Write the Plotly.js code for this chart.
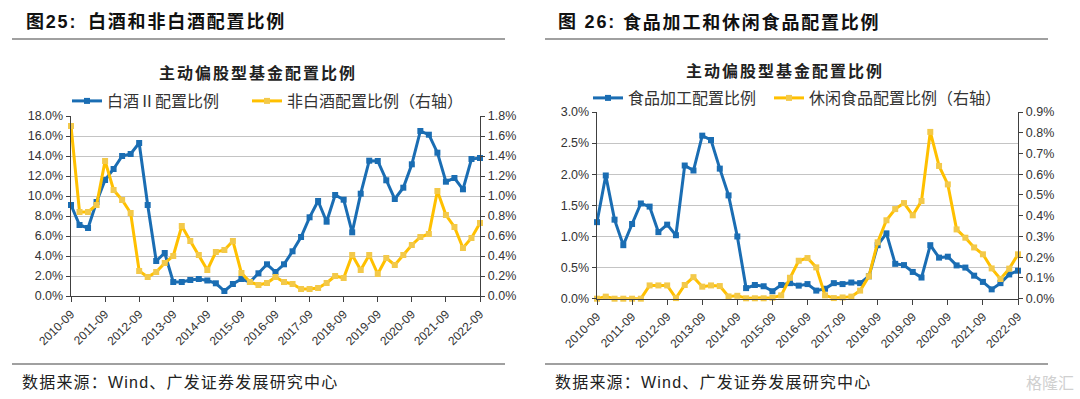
<!DOCTYPE html>
<html>
<head>
<meta charset="utf-8">
<script src="https://cdn.plot.ly/plotly-3.0.1.min.js"></script>
<style>
html,body{margin:0;padding:0;background:#fff;}
#chart{width:1080px;height:399px;}
g.annotation[data-index="0"] text, g.annotation[data-index="1"] text,
g.annotation[data-index="2"] text, g.annotation[data-index="3"] text{letter-spacing:1.8px;}
g.annotation[data-index="4"] text, g.annotation[data-index="5"] text{letter-spacing:2px;}
g.annotation[data-index="6"] text, g.annotation[data-index="7"] text{letter-spacing:1.2px;}
</style>
</head>
<body>
<div id="chart"></div>
<script>
// ---- data ----
const quarters = [
 "2010-09","2010-12","2011-03","2011-06","2011-09","2011-12","2012-03","2012-06",
 "2012-09","2012-12","2013-03","2013-06","2013-09","2013-12","2014-03","2014-06",
 "2014-09","2014-12","2015-03","2015-06","2015-09","2015-12","2016-03","2016-06",
 "2016-09","2016-12","2017-03","2017-06","2017-09","2017-12","2018-03","2018-06",
 "2018-09","2018-12","2019-03","2019-06","2019-09","2019-12","2020-03","2020-06",
 "2020-09","2020-12","2021-03","2021-06","2021-09","2021-12","2022-03","2022-06",
 "2022-09"];
const yearTicks = ["2010-09","2011-09","2012-09","2013-09","2014-09","2015-09","2016-09",
 "2017-09","2018-09","2019-09","2020-09","2021-09","2022-09"];

// Panel 25 (percent)
const baijiu = [9.1,7.1,6.8,9.4,11.6,12.7,14.0,14.2,15.3,9.1,3.5,4.3,1.4,1.4,1.6,1.7,
 1.55,1.27,0.5,1.2,1.7,1.4,2.27,3.17,2.4,3.17,4.47,5.9,7.87,9.5,7.43,10.1,
 9.63,6.37,10.23,13.53,13.5,11.57,9.7,10.83,13.17,16.5,16.13,14.33,11.43,11.8,10.67,13.7,13.8];
const feiBaijiu = [1.70,0.84,0.84,0.91,1.35,1.06,0.96,0.83,0.25,0.19,0.24,0.33,0.40,0.70,0.55,0.41,
 0.26,0.44,0.46,0.55,0.23,0.14,0.11,0.13,0.19,0.14,0.12,0.07,0.07,0.08,0.13,0.20,
 0.18,0.41,0.26,0.41,0.22,0.38,0.31,0.41,0.51,0.59,0.62,1.05,0.81,0.69,0.48,0.58,0.73];

// Panel 26 (percent)
const foodProc = [1.23,1.98,1.27,0.86,1.2,1.53,1.48,1.07,1.19,1.02,2.14,2.06,2.62,2.55,2.09,1.66,
 1.0,0.17,0.22,0.2,0.12,0.22,0.25,0.21,0.235,0.13,0.16,0.25,0.235,0.26,0.25,0.36,
 0.86,1.05,0.56,0.54,0.43,0.34,0.86,0.66,0.675,0.535,0.5,0.37,0.27,0.15,0.25,0.39,0.45];
const snackFood = [0.0,0.01,0.0,0.0,0.0,0.0,0.064,0.064,0.064,0.003,0.066,0.104,0.058,0.064,0.061,0.011,
 0.014,0.002,0.002,0.002,0.005,0.016,0.101,0.183,0.196,0.151,0.016,0.003,0.006,0.01,0.039,0.108,
 0.272,0.378,0.432,0.461,0.402,0.471,0.804,0.64,0.551,0.334,0.294,0.247,0.214,0.146,0.095,0.145,0.214];

const names = {
  baijiu: "白酒Ⅱ配置比例",
  feiBaijiu: "非白酒配置比例（右轴）",
  foodProc: "食品加工配置比例",
  snackFood: "休闲食品配置比例（右轴）"
};

// ---- layout helpers ----
const W = 1080, H = 399;
const px = x => x / W;
const py = y => 1 - y / H;

const BLUE = "#1a6db3";
const YEL = "#ffc000";
const YELM = "#f3c94a";
const AX = "#404040";
const GRID = "#c4c4c4";
const FT = "Liberation Sans, Arial, sans-serif";
const CJK = "Noto Sans CJK SC, sans-serif";

function line(x, y, color, mcolor, xa, ya, name, legend) {
  return {
    x: x, y: y, name: name, type: "scatter", mode: "lines+markers",
    xaxis: xa, yaxis: ya, legend: legend, cliponaxis: false,
    line: {color: color, width: 3},
    marker: {symbol: "square", size: 6, color: mcolor, line: {width: 0}}
  };
}

const traces = [
  line(quarters, baijiu, BLUE, BLUE, "x", "y", names.baijiu, "legend"),
  line(quarters, feiBaijiu, YEL, YELM, "x", "y2", names.feiBaijiu, "legend2"),
  line(quarters, foodProc, BLUE, BLUE, "x2", "y3", names.foodProc, "legend3"),
  line(quarters, snackFood, YEL, YELM, "x2", "y4", names.snackFood, "legend4")
];

function xaxis(domain, anchor) {
  return {
    type: "category", domain: domain, anchor: anchor, range: [0, 48],
    tickmode: "array", tickvals: yearTicks, ticktext: yearTicks,
    tickangle: -45, ticks: "outside", ticklen: 5, tickcolor: AX,
    showline: true, linecolor: AX, linewidth: 1.3, showgrid: false,
    tickfont: {family: FT, size: 12, color: "#333"}, fixedrange: true
  };
}
function yaxis(domain, anchor, range, dtick, side, overlay, grid) {
  const a = {
    domain: domain, anchor: anchor, range: range, dtick: dtick, tick0: 0,
    side: side, tickformat: ".1f", ticksuffix: "%",
    ticks: "outside", ticklen: 4, tickcolor: AX,
    showline: true, linecolor: AX, linewidth: 1.3,
    showgrid: grid, gridcolor: GRID, gridwidth: 1, zeroline: false,
    tickfont: {family: FT, size: 12.5, color: "#333"}, fixedrange: true
  };
  if (overlay) a.overlaying = overlay;
  return a;
}

const d1x = [px(71), px(480)];
const d1y = [py(296), py(116)];
const d2x = [px(597), px(1018)];
const d2y = [py(298.7), py(112)];

const TF = "Liberation Sans, Noto Sans CJK SC";
const annotations = [
  {text: "<b>图25:</b>", x: px(24), y: py(22), font: {family: TF, size: 18, color: "#111"}},
  {text: "<b>白酒和非白酒配置比例</b>", x: px(86), y: py(22), font: {family: TF, size: 18, color: "#111"}},
  {text: "<b>图 26:</b>", x: px(556), y: py(22), font: {family: TF, size: 18, color: "#111"}},
  {text: "<b>食品加工和休闲食品配置比例</b>", x: px(621), y: py(22), font: {family: TF, size: 18, color: "#111"}},
  {text: "<b>主动偏股型基金配置比例</b>", x: px(258), y: py(72), xanchor: "center", align: "center",
   font: {family: CJK, size: 16, color: "#222"}},
  {text: "<b>主动偏股型基金配置比例</b>", x: px(785), y: py(70), xanchor: "center", align: "center",
   font: {family: CJK, size: 16, color: "#222"}},
  {text: "数据来源：Wind、广发证券发展研究中心", x: px(20), y: py(382), font: {family: TF, size: 16, color: "#222"}},
  {text: "数据来源：Wind、广发证券发展研究中心", x: px(553), y: py(382), font: {family: TF, size: 16, color: "#222"}},
  {text: "格隆汇", x: px(1076), y: py(382), xanchor: "right", align: "right",
   font: {family: CJK, size: 16, color: "#d0d0d0"}}
].map(a => Object.assign({xref: "paper", yref: "paper", showarrow: false,
  xanchor: "left", align: "left", yanchor: "middle"}, a));

const shapes = [
  {x0: px(12), x1: px(505), y0: py(39), y1: py(39)},
  {x0: px(545), x1: px(1048), y0: py(39), y1: py(39)},
  {x0: px(12), x1: px(505), y0: py(364), y1: py(364)},
  {x0: px(545), x1: px(1048), y0: py(364), y1: py(364)}
].map(s => Object.assign({type: "line", xref: "paper", yref: "paper", line: {color: "#808080", width: 1.5}}, s));

const legendBase = {
  orientation: "h", xanchor: "left", yanchor: "middle", bgcolor: "rgba(0,0,0,0)",
  font: {family: CJK, size: 16, color: "#333"}, itemwidth: 30,
  tracegroupgap: 0, traceorder: "normal"
};
function leg(x, y) { return Object.assign({}, legendBase, {x: px(x), y: py(y)}); }

const layout = {
  width: W, height: H, autosize: false,
  margin: {l: 0, r: 0, t: 0, b: 0},
  paper_bgcolor: "#fff", plot_bgcolor: "rgba(0,0,0,0)",
  showlegend: true,
  legend: leg(67, 101),
  legend2: leg(247, 101),
  legend3: leg(588, 98),
  legend4: leg(769, 98),
  xaxis: xaxis(d1x, "y"),
  yaxis: yaxis(d1y, "x", [0, 18], 2, "left", null, true),
  yaxis2: yaxis(d1y, "x", [0, 1.8], 0.2, "right", "y", false),
  xaxis2: xaxis(d2x, "y3"),
  yaxis3: yaxis(d2y, "x2", [0, 3], 0.5, "left", null, true),
  yaxis4: yaxis(d2y, "x2", [0, 0.9], 0.1, "right", "y3", false),
  annotations: annotations,
  shapes: shapes
};

Plotly.newPlot("chart", traces, layout, {displayModeBar: false, staticPlot: true});
</script>
</body>
</html>
